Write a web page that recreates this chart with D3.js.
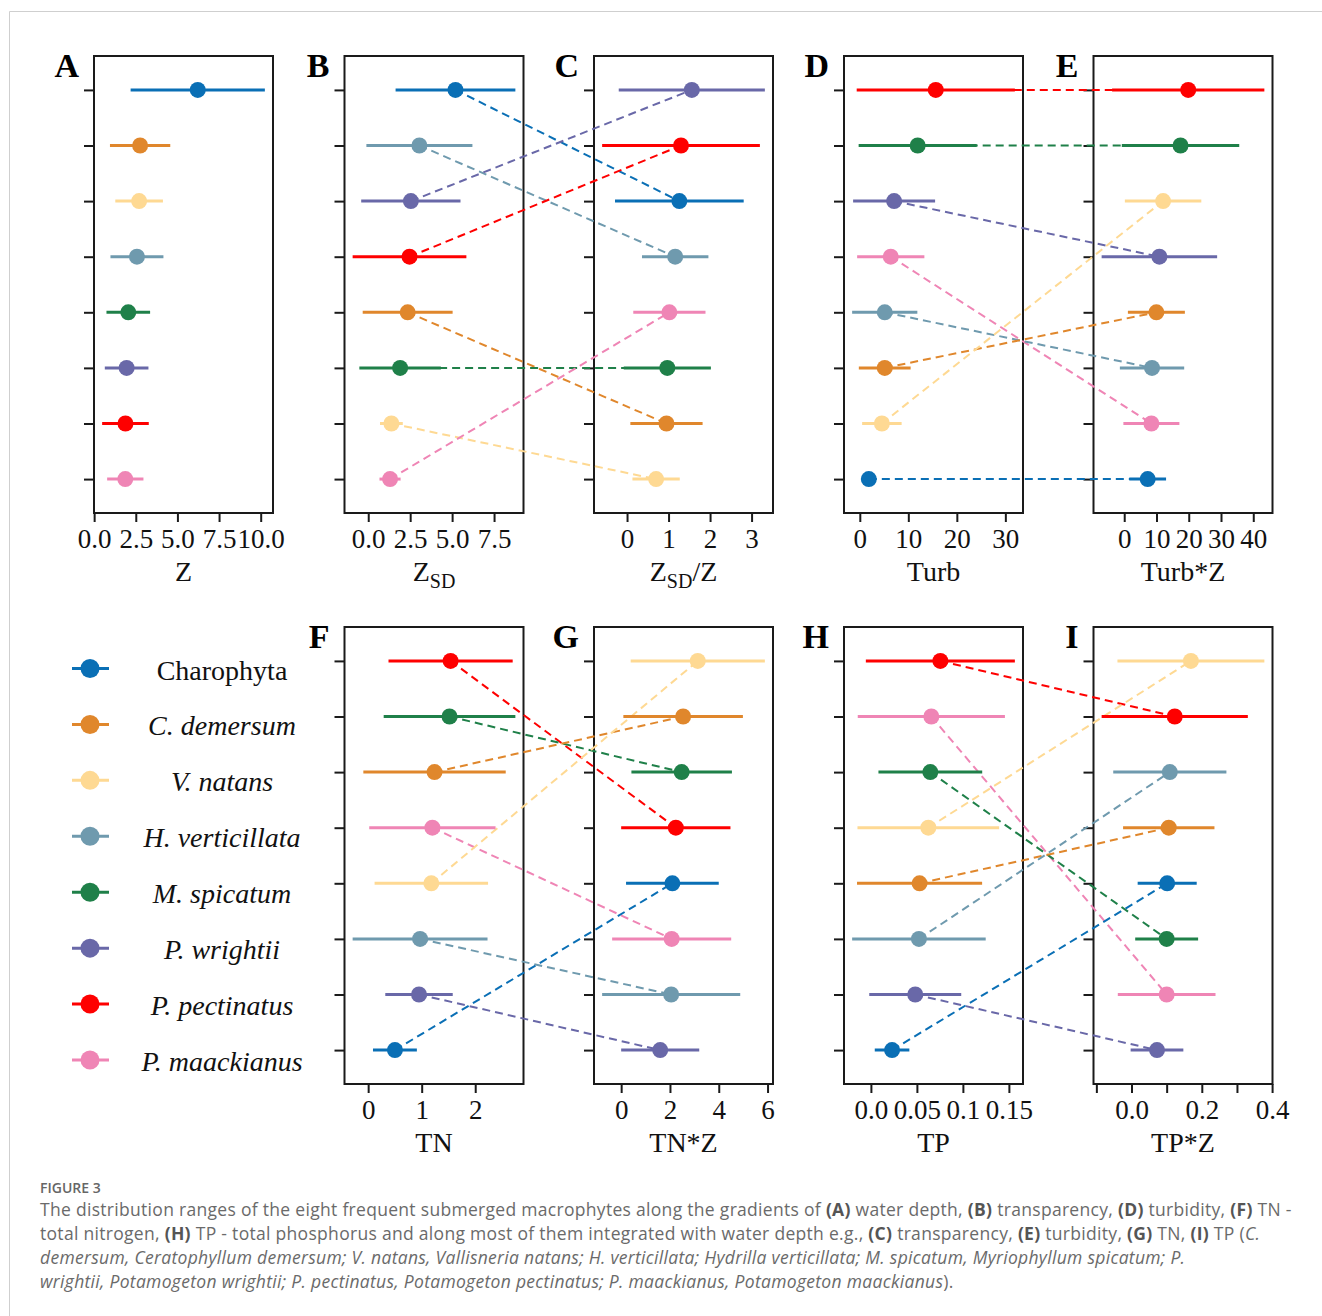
<!DOCTYPE html>
<html>
<head>
<meta charset="utf-8">
<script src="https://cdn.jsdelivr.net/npm/d3@7"></script>
<style>
  body { margin: 0; background: #fff; }
  svg { display: block; }
</style>
</head>
<body>
<div id="chart"></div>
<script>
// species names, colours, legend styling
var species = ["Charophyta", "C. demersum", "V. natans", "H. verticillata",
               "M. spicatum", "P. wrightii", "P. pectinatus", "P. maackianus"];
var speciesItalic = [false, true, true, true, true, true, true, true];
var speciesColors = ["#0a6fb5", "#e0872c", "#fed993", "#6f9aae",
                     "#1f8049", "#6968a8", "#fe0000", "#ef85b5"];

// each panel: species index from top to bottom, mean and sd in the same order
// A  water depth Z
var zOrder = [0, 1, 2, 3, 4, 5, 6, 7];
var zMean  = [6.22, 2.76, 2.70, 2.57, 2.05, 1.95, 1.88, 1.87];
var zSd    = [4.03, 1.81, 1.43, 1.59, 1.31, 1.31, 1.40, 1.09];
// B  transparency ZSD
var zsdOrder = [0, 3, 5, 6, 1, 4, 2, 7];
var zsdMean  = [5.20, 3.05, 2.54, 2.46, 2.35, 1.90, 1.38, 1.30];
var zsdSd    = [3.57, 3.16, 2.96, 3.39, 2.68, 2.43, 0.68, 0.63];
// C  ZSD/Z
var zsdzOrder = [5, 6, 0, 3, 7, 4, 1, 2];
var zsdzMean  = [1.56, 1.30, 1.26, 1.16, 1.02, 0.97, 0.95, 0.70];
var zsdzSd    = [1.76, 1.90, 1.55, 0.80, 0.87, 1.05, 0.87, 0.57];
// D  turbidity
var turbOrder = [6, 4, 5, 7, 3, 1, 2, 0];
var turbMean  = [15.66, 11.93, 7.07, 6.38, 5.14, 5.14, 4.55, 1.86];
var turbSd    = [16.30, 12.17, 8.45, 6.93, 6.72, 5.34, 4.07, 0.90];
// E  Turb*Z
var turbzOrder = [6, 4, 2, 5, 1, 3, 7, 0];
var turbzMean  = [19.84, 17.45, 12.05, 10.90, 9.97, 8.62, 8.42, 7.27];
var turbzSd    = [23.60, 18.20, 11.85, 17.90, 8.83, 9.97, 8.68, 5.70];
// F  total nitrogen
var tnOrder = [6, 4, 1, 7, 2, 3, 5, 0];
var tnMean  = [1.54, 1.52, 1.24, 1.20, 1.18, 0.97, 0.95, 0.50];
var tnSd    = [1.16, 1.23, 1.33, 1.18, 1.06, 1.26, 0.63, 0.41];
// G  TN*Z
var tnzOrder = [2, 1, 4, 6, 0, 7, 3, 5];
var tnzMean  = [3.14, 2.54, 2.48, 2.24, 2.10, 2.07, 2.05, 1.60];
var tnzSd    = [2.75, 2.45, 2.06, 2.24, 1.90, 2.44, 2.83, 1.60];
// H  total phosphorus
var tpOrder = [6, 7, 4, 2, 1, 3, 5, 0];
var tpMean  = [0.0755, 0.0657, 0.0646, 0.0624, 0.0529, 0.0522, 0.0482, 0.0230];
var tpSd    = [0.0810, 0.0800, 0.0564, 0.0770, 0.0680, 0.0726, 0.0500, 0.0188];
// I  TP*Z
var tpzOrder = [2, 6, 3, 1, 0, 4, 7, 5];
var tpzMean  = [0.169, 0.123, 0.109, 0.106, 0.1015, 0.100, 0.100, 0.0725];
var tpzSd    = [0.209, 0.208, 0.161, 0.130, 0.084, 0.0895, 0.139, 0.075];

// tick values and labels for each x axis
var zTicks = [0, 2.5, 5, 7.5, 10],        zTickLabels = ["0.0", "2.5", "5.0", "7.5", "10.0"];
var zsdTicks = [0, 2.5, 5, 7.5],          zsdTickLabels = ["0.0", "2.5", "5.0", "7.5"];
var zsdzTicks = [0, 1, 2, 3],             zsdzTickLabels = ["0", "1", "2", "3"];
var turbTicks = [0, 10, 20, 30],          turbTickLabels = ["0", "10", "20", "30"];
var turbzTicks = [0, 10, 20, 30, 40],     turbzTickLabels = ["0", "10", "20", "30", "40"];
var tnTicks = [0, 1, 2],                  tnTickLabels = ["0", "1", "2"];
var tnzTicks = [0, 2, 4, 6],              tnzTickLabels = ["0", "2", "4", "6"];
var tpTicks = [0, 0.05, 0.1, 0.15],       tpTickLabels = ["0.0", "0.05", "0.1", "0.15"];
var tpzTicks = [-0.1, 0, 0.1, 0.2, 0.3, 0.4], tpzTickLabels = ["", "0.0", "", "0.2", "", "0.4"];

var panels = [
  {id: "A", title: ["Z"],          order: zOrder,     mean: zMean,     sd: zSd,     ticks: zTicks,     labels: zTickLabels,     col: 0, row: 0},
  {id: "B", title: ["Z", "SD"],    order: zsdOrder,   mean: zsdMean,   sd: zsdSd,   ticks: zsdTicks,   labels: zsdTickLabels,   col: 1, row: 0},
  {id: "C", title: ["Z", "SD", "/Z"], order: zsdzOrder, mean: zsdzMean, sd: zsdzSd, ticks: zsdzTicks,  labels: zsdzTickLabels,  col: 2, row: 0},
  {id: "D", title: ["Turb"],       order: turbOrder,  mean: turbMean,  sd: turbSd,  ticks: turbTicks,  labels: turbTickLabels,  col: 3, row: 0},
  {id: "E", title: ["Turb*Z"],     order: turbzOrder, mean: turbzMean, sd: turbzSd, ticks: turbzTicks, labels: turbzTickLabels, col: 4, row: 0},
  {id: "F", title: ["TN"],         order: tnOrder,    mean: tnMean,    sd: tnSd,    ticks: tnTicks,    labels: tnTickLabels,    col: 1, row: 1},
  {id: "G", title: ["TN*Z"],       order: tnzOrder,   mean: tnzMean,   sd: tnzSd,   ticks: tnzTicks,   labels: tnzTickLabels,   col: 2, row: 1},
  {id: "H", title: ["TP"],         order: tpOrder,    mean: tpMean,    sd: tpSd,    ticks: tpTicks,    labels: tpTickLabels,    col: 3, row: 1},
  {id: "I", title: ["TP*Z"],       order: tpzOrder,   mean: tpzMean,   sd: tpzSd,   ticks: tpzTicks,   labels: tpzTickLabels,   col: 4, row: 1}
];
// dashed lines join the same species in these panel pairs
var links = [["B", "C"], ["D", "E"], ["F", "G"], ["H", "I"]];

// #####################################################
// layout
//
var W = 1322, H = 1316;
var colLeft = [94, 344.5, 594, 844, 1093.5];
var frameW = 179;
var rowTop = [56, 627];
var frameH = 457;
var serif = "'Liberation Serif', 'Times New Roman', serif";

var svg = d3.select("#chart").append("svg")
    .attr("width", W)
    .attr("height", H);

// outer grey border of the figure
svg.append("path")
    .attr("d", "M9.5," + H + "V11.5H" + W)
    .attr("fill", "none")
    .attr("stroke", "#cfcfcf")
    .attr("stroke-width", 1);

// build scales for every panel
panels.forEach(function(p) {
  var lo = d3.min(p.mean, function(m, i) { return m - p.sd[i]; });
  var hi = d3.max(p.mean, function(m, i) { return m + p.sd[i]; });
  var pad = (hi - lo) * 0.05;
  p.left = colLeft[p.col];
  p.top = rowTop[p.row];
  p.x = d3.scaleLinear().domain([lo - pad, hi + pad]).range([p.left, p.left + frameW]);
  p.y = d3.scaleLinear().domain([-0.61, 7.61]).range([p.top, p.top + frameH]);
  p.rows = p.order.map(function(s, i) {
    return {sp: s, rank: i, mean: p.mean[i], sd: p.sd[i]};
  });
});
var byId = {};
panels.forEach(function(p) { byId[p.id] = p; });

// frames, axes and labels
panels.forEach(function(p) {
  var g = svg.append("g");

  g.append("rect")
      .attr("x", p.left)
      .attr("y", p.top)
      .attr("width", frameW)
      .attr("height", frameH)
      .attr("fill", "none")
      .attr("stroke", "#1a1a1a")
      .attr("stroke-width", 2);

  // x axis
  var xAxis = d3.axisBottom(p.x)
      .tickValues(p.ticks)
      .tickSize(9)
      .tickPadding(7)
      .tickFormat(function(d, i) { return p.labels[i]; });
  var ax = g.append("g")
      .attr("transform", "translate(0," + (p.top + frameH) + ")")
      .call(xAxis);
  ax.select(".domain").remove();
  ax.selectAll(".tick line").attr("stroke", "#1a1a1a").attr("stroke-width", 2);
  ax.selectAll(".tick text")
      .attr("fill", "#111")
      .style("font-family", serif)
      .style("font-size", "27px");

  // y axis ticks, no labels
  var yAxis = d3.axisLeft(p.y)
      .tickValues(d3.range(8))
      .tickSize(10)
      .tickFormat("");
  var ay = g.append("g")
      .attr("transform", "translate(" + p.left + ",0)")
      .call(yAxis);
  ay.select(".domain").remove();
  ay.selectAll(".tick line").attr("stroke", "#1a1a1a").attr("stroke-width", 2);

  // axis title
  var t = g.append("text")
      .attr("x", p.left + frameW / 2)
      .attr("y", p.top + frameH + 68)
      .attr("text-anchor", "middle")
      .attr("fill", "#111")
      .style("font-family", serif)
      .style("font-size", "28px");
  t.append("tspan").text(p.title[0]);
  if (p.title.length > 1) {
    t.append("tspan").attr("dy", 7).style("font-size", "20px").text(p.title[1]);
  }
  if (p.title.length > 2) {
    t.append("tspan").attr("dy", -7).text(p.title[2]);
  }

  // panel letter
  g.append("text")
      .attr("x", p.left - 15)
      .attr("y", p.top + 21)
      .attr("text-anchor", "end")
      .attr("fill", "#000")
      .style("font-family", serif)
      .style("font-weight", "bold")
      .style("font-size", "34px")
      .text(p.id);
});

// dashed connectors between paired panels
links.forEach(function(pair) {
  var a = byId[pair[0]], b = byId[pair[1]];
  a.rows.forEach(function(ra) {
    var rb = b.rows.find(function(r) { return r.sp == ra.sp; });
    svg.append("line")
        .attr("x1", a.x(ra.mean))
        .attr("y1", a.y(ra.rank))
        .attr("x2", b.x(rb.mean))
        .attr("y2", b.y(rb.rank))
        .attr("stroke", speciesColors[ra.sp])
        .attr("stroke-width", 2)
        .attr("stroke-dasharray", "8,5");
  });
});

// error bars and mean points
panels.forEach(function(p) {
  var g = svg.append("g");
  g.selectAll("line.bar")
    .data(p.rows)
    .enter().append("line")
      .attr("class", "bar")
      .attr("x1", function(d) { return p.x(d.mean - d.sd); })
      .attr("x2", function(d) { return p.x(d.mean + d.sd); })
      .attr("y1", function(d) { return p.y(d.rank); })
      .attr("y2", function(d) { return p.y(d.rank); })
      .attr("stroke", function(d) { return speciesColors[d.sp]; })
      .attr("stroke-width", 3);
  g.selectAll("circle")
    .data(p.rows)
    .enter().append("circle")
      .attr("cx", function(d) { return p.x(d.mean); })
      .attr("cy", function(d) { return p.y(d.rank); })
      .attr("r", 8)
      .attr("fill", function(d) { return speciesColors[d.sp]; });
});

// #####################################################
// Legend
//
var legY = d3.scaleLinear().domain([0, 7]).range([668.5, 1060]);
var leg = svg.append("g");
species.forEach(function(name, i) {
  var cy = legY(i);
  leg.append("line")
      .attr("x1", 72).attr("x2", 109)
      .attr("y1", cy).attr("y2", cy)
      .attr("stroke", speciesColors[i])
      .attr("stroke-width", 3);
  leg.append("circle")
      .attr("cx", 90).attr("cy", cy).attr("r", 9.5)
      .attr("fill", speciesColors[i]);
  leg.append("text")
      .attr("x", 222)
      .attr("y", cy + 11)
      .attr("text-anchor", "middle")
      .attr("fill", "#111")
      .style("font-family", serif)
      .style("font-size", "28px")
      .style("font-style", speciesItalic[i] ? "italic" : "normal")
      .text(name);
});

// #####################################################
// Caption
//
var captionFont = "'Open Sans', 'DejaVu Sans', sans-serif";
svg.append("text")
    .attr("x", 40)
    .attr("y", 1193)
    .attr("fill", "#666")
    .style("font-family", captionFont)
    .style("font-size", "14px")
    .style("font-weight", 600)
    .text("FIGURE 3");

// each caption line is a list of [text, style] pieces; b = bold, i = italic
var captionLines = [
  [["The distribution ranges of the eight frequent submerged macrophytes along the gradients of ", ""], ["(A)", "b"], [" water depth, ", ""], ["(B)", "b"], [" transparency, ", ""], ["(D)", "b"], [" turbidity, ", ""], ["(F)", "b"], [" TN -", ""]],
  [["total nitrogen, ", ""], ["(H)", "b"], [" TP - total phosphorus and along most of them integrated with water depth e.g., ", ""], ["(C)", "b"], [" transparency, ", ""], ["(E)", "b"], [" turbidity, ", ""], ["(G)", "b"], [" TN, ", ""], ["(I)", "b"], [" TP (", ""], ["C.", "i"]],
  [["demersum, Ceratophyllum demersum; V. natans, Vallisneria natans; H. verticillata; Hydrilla verticillata; M. spicatum, Myriophyllum spicatum; P.", "i"]],
  [["wrightii, Potamogeton wrightii; P. pectinatus, Potamogeton pectinatus; P. maackianus, Potamogeton maackianus", "i"], [").", ""]]
];
captionLines.forEach(function(parts, li) {
  var t = svg.append("text")
      .attr("x", 40)
      .attr("y", 1216 + li * 24)
      .attr("fill", "#6a6a6a")
      .style("font-family", captionFont)
      .style("font-size", "17.5px")
      .style("letter-spacing", "0.3px");
  parts.forEach(function(pc) {
    t.append("tspan")
        .style("font-weight", pc[1] == "b" ? 700 : 400)
        .style("font-style", pc[1] == "i" ? "italic" : "normal")
        .attr("fill", pc[1] == "b" ? "#555" : null)
        .text(pc[0]);
  });
});
</script>
</body>
</html>
